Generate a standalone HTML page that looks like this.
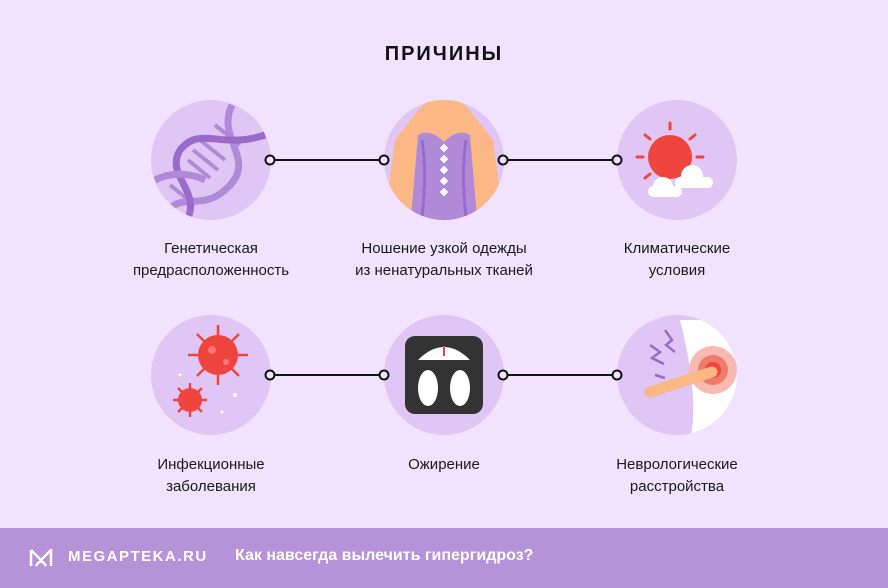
<!DOCTYPE html>
<html><head><meta charset="utf-8"><style>
body{margin:0;width:888px;height:588px;background:#f1e3fd;font-family:"Liberation Sans",sans-serif;position:relative;overflow:hidden}
.t{position:absolute;width:240px;text-align:center;font-size:15px;line-height:22px;color:#1a1a1a}
.h{position:absolute;left:0;width:888px;top:43px;text-align:center;font-weight:bold;font-size:20px;letter-spacing:2px;color:#111}
.f{position:absolute;left:0;top:528px;width:888px;height:60px;background:#b692d8;color:#fff}
</style></head><body>
<div class="h">ПРИЧИНЫ</div>
<svg width="888" height="528" style="position:absolute;left:0;top:0">
<defs><clipPath id="c1"><circle cx="444" cy="160" r="60"/></clipPath><clipPath id="c2"><circle cx="211" cy="160" r="60"/></clipPath><clipPath id="c3"><circle cx="677" cy="375" r="60"/></clipPath></defs>
<g fill="#dfc6f5"><circle cx="211" cy="160" r="60"/><circle cx="444" cy="160" r="60"/><circle cx="677" cy="160" r="60"/><circle cx="211" cy="375" r="60"/><circle cx="444" cy="375" r="60"/><circle cx="677" cy="375" r="60"/></g>
<g stroke="#111" stroke-width="2" fill="#f1e3fd">
<line x1="275" y1="160" x2="379" y2="160"/><line x1="508" y1="160" x2="612" y2="160"/>
<line x1="275" y1="375" x2="379" y2="375"/><line x1="508" y1="375" x2="612" y2="375"/>
<circle cx="270" cy="160" r="4.5"/><circle cx="384" cy="160" r="4.5"/><circle cx="503" cy="160" r="4.5"/><circle cx="617" cy="160" r="4.5"/>
<circle cx="270" cy="375" r="4.5"/><circle cx="384" cy="375" r="4.5"/><circle cx="503" cy="375" r="4.5"/><circle cx="617" cy="375" r="4.5"/>
</g>
<!-- DNA -->
<g clip-path="url(#c2)">
<g stroke="#b08ad9" stroke-width="4"><line x1="200" y1="140" x2="225" y2="160"/><line x1="193" y1="150" x2="218" y2="170"/><line x1="188" y1="160" x2="210" y2="178"/><line x1="215" y1="125" x2="240" y2="145"/><line x1="170" y1="185" x2="195" y2="205"/></g>
<path d="M232 105 C215 140 260 160 225 190 C200 212 180 190 165 215" stroke="#b08ad9" stroke-width="7" fill="none"/>
<path d="M265 135 C220 150 200 125 180 150 C165 175 200 190 188 218" stroke="#9a6bcb" stroke-width="7" fill="none"/>
<path d="M155 180 C175 170 195 175 205 180" stroke="#b08ad9" stroke-width="7" fill="none"/>
</g>
<!-- corset -->
<g clip-path="url(#c1)">
<path d="M395 140 L420 108 L430 100 L458 100 L468 108 L493 140 L505 230 L383 230Z" fill="#fbb784"/>
<path d="M418 135 Q430 128 444 142 Q458 128 470 135 L478 230 L410 230Z" fill="#b08ad9"/>
<path d="M422 140 Q428 180 420 230 M466 140 Q460 180 468 230" stroke="#9a6bcb" stroke-width="3" fill="none"/>
</g>
<g fill="#fff"><rect x="441" y="145" width="6" height="6" transform="rotate(45 444 148)"/><rect x="441" y="156" width="6" height="6" transform="rotate(45 444 159)"/><rect x="441" y="167" width="6" height="6" transform="rotate(45 444 170)"/><rect x="441" y="178" width="6" height="6" transform="rotate(45 444 181)"/><rect x="441" y="189" width="6" height="6" transform="rotate(45 444 192)"/></g>
<!-- sun -->
<g stroke="#f0443f" stroke-width="3" stroke-linecap="round"><line x1="670" y1="123" x2="670" y2="129"/><line x1="645" y1="135" x2="650" y2="139"/><line x1="695" y1="135" x2="690" y2="139"/><line x1="637" y1="157" x2="643" y2="157"/><line x1="697" y1="157" x2="703" y2="157"/><line x1="645" y1="178" x2="650" y2="174"/></g>
<circle cx="670" cy="157" r="22" fill="#f0443f"/>
<g fill="#fff"><circle cx="663" cy="187" r="10"/><circle cx="692" cy="176" r="11"/><rect x="648" y="186" width="34" height="11" rx="5.5"/><rect x="675" y="177" width="38" height="11" rx="5.5"/></g>
<!-- virus -->
<g stroke="#f0443f" stroke-width="2.5">
<line x1="218" y1="325" x2="218" y2="385"/><line x1="188" y1="355" x2="248" y2="355"/><line x1="197" y1="334" x2="239" y2="376"/><line x1="239" y1="334" x2="197" y2="376"/>
<line x1="190" y1="383" x2="190" y2="417"/><line x1="173" y1="400" x2="207" y2="400"/><line x1="178" y1="388" x2="202" y2="412"/><line x1="202" y1="388" x2="178" y2="412"/></g>
<circle cx="218" cy="355" r="20" fill="#f0443f"/><circle cx="190" cy="400" r="12" fill="#f0443f"/>
<circle cx="212" cy="350" r="4" fill="#f77"/><circle cx="226" cy="362" r="3" fill="#f77"/>
<g fill="#fff"><circle cx="235" cy="395" r="2"/><circle cx="222" cy="412" r="1.5"/><circle cx="180" cy="375" r="1.5"/></g>
<!-- scale -->
<rect x="405" y="336" width="78" height="78" rx="10" fill="#333"/>
<path d="M418 360 Q444 334 470 360Z" fill="#fff"/><line x1="444" y1="346" x2="444" y2="356" stroke="#f0443f" stroke-width="2"/>
<ellipse cx="428" cy="388" rx="10" ry="18" fill="#fff"/><ellipse cx="460" cy="388" rx="10" ry="18" fill="#fff"/>
<!-- nerve -->
<g clip-path="url(#c3)">
<path d="M680 320 L740 320 L740 440 L690 440 Q700 400 680 320Z" fill="#fff"/>
</g>
<circle cx="713" cy="370" r="24" fill="#f7b9b0"/><circle cx="713" cy="370" r="15" fill="#f27a6a"/><circle cx="713" cy="370" r="8" fill="#f0443f"/>
<path d="M650 392 L712 372" stroke="#fbb784" stroke-width="11" stroke-linecap="round"/>
<g stroke="#9a6bcb" stroke-width="2.5" fill="none"><path d="M650 345 L660 352 L652 358 L664 364"/><path d="M665 330 L672 340 L666 345 L675 352"/><path d="M655 375 L665 378"/></g>
</svg>
<div class="t" style="left:91px;top:238px">Генетическая<br>предрасположенность</div>
<div class="t" style="left:324px;top:238px">Ношение узкой одежды<br>из ненатуральных тканей</div>
<div class="t" style="left:557px;top:238px">Климатические<br>условия</div>
<div class="t" style="left:91px;top:454px">Инфекционные<br>заболевания</div>
<div class="t" style="left:324px;top:454px">Ожирение</div>
<div class="t" style="left:557px;top:454px">Неврологические<br>расстройства</div>
<div class="f">
<svg width="26" height="22" style="position:absolute;left:28px;top:19px"><path d="M3 3 L13 13 L23 3 L23 19 M3 3 L3 19 M8 19 Q13 10 18 19" stroke="#fff" stroke-width="2.5" fill="none" stroke-linejoin="round"/></svg>
<div style="position:absolute;left:68px;top:20px;font-weight:bold;font-size:15px;letter-spacing:1.5px">MEGAPTEKA.RU</div>
<div style="position:absolute;left:235px;top:19px;font-weight:bold;font-size:16px">Как навсегда вылечить гипергидроз?</div>
</div>
</body></html>
